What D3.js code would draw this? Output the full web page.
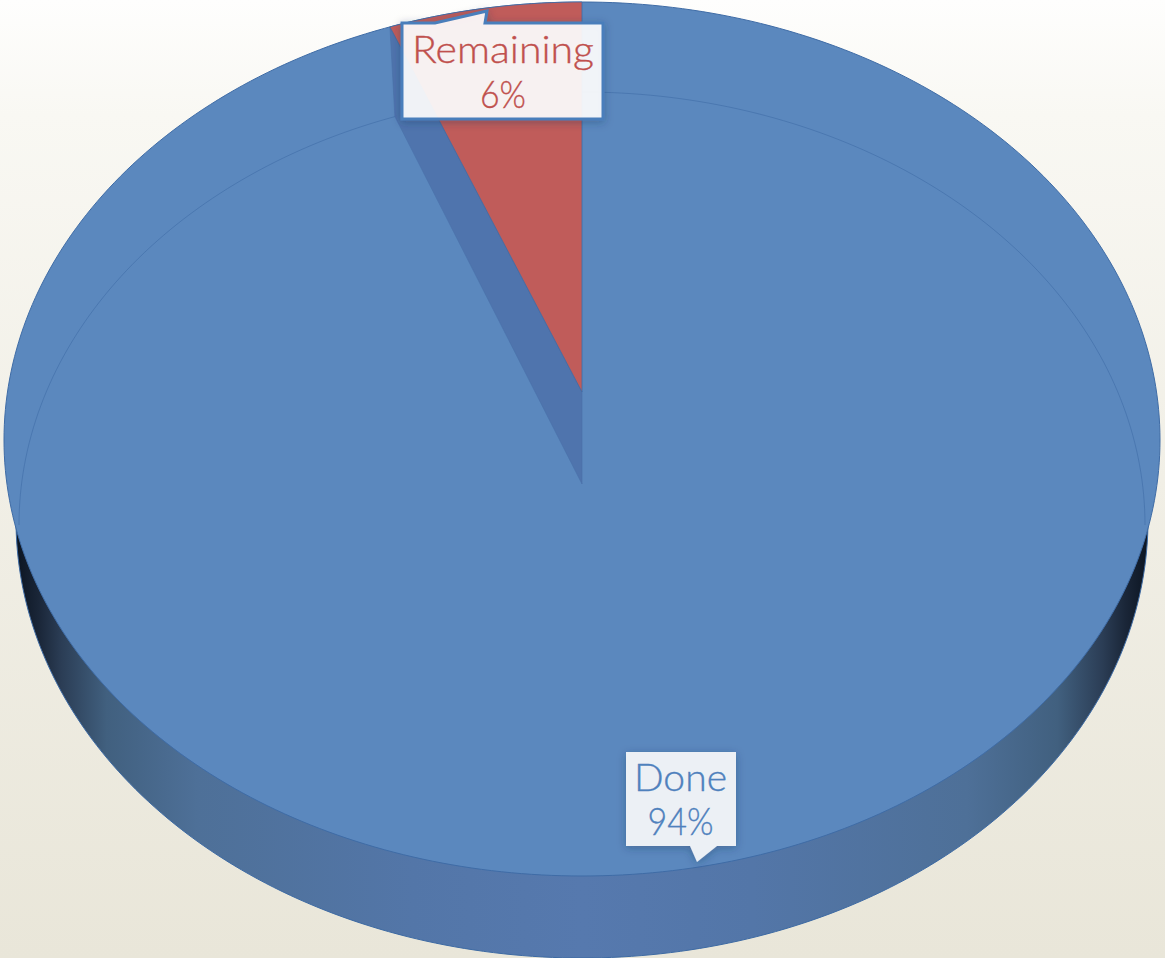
<!DOCTYPE html>
<html><head><meta charset="utf-8">
<script src="https://cdn.jsdelivr.net/npm/d3@7"></script>
<style>html,body{margin:0;padding:0;overflow:hidden;background:#fff}svg{display:block}</style>
</head><body><svg id="c" width="1165" height="958"></svg>
<script>
const categories = ["Done", "Remaining"];
const seriesValues = [94, 6];
const valueLabels = ["94%", "6%"];

const W = 1165, H = 958;
const svg = d3.select("#c");
const defs = svg.append("defs");

function grad(id, dir, stops){
  const g = defs.append("linearGradient").attr("id", id)
    .attr("x1",0).attr("y1",0).attr("x2",dir==="h"?1:0).attr("y2",dir==="h"?0:1);
  stops.forEach(s=>g.append("stop").attr("offset",s[0]).attr("stop-color",s[1]));
}
grad("bg","v",[[0,"#fefefd"],[0.12,"#f9f8f3"],[0.5,"#f1efe6"],[1,"#e9e6d9"]]);
grad("rim","h",[[0,"#0c1522"],[0.02,"#1a2638"],[0.04,"#2b3d55"],[0.08,"#41607f"],[0.16,"#4e7098"],[0.35,"#5376a8"],[0.5,"#5679ae"],[0.65,"#5376a8"],[0.84,"#4e7098"],[0.92,"#41607f"],[0.96,"#2b3d55"],[0.98,"#1a2638"],[1,"#0c1522"]]);
const f = defs.append("filter").attr("id","sh").attr("x","-20%").attr("y","-20%").attr("width","140%").attr("height","140%");
f.append("feDropShadow").attr("dx",0).attr("dy",2).attr("stdDeviation",4).attr("flood-color","#1d3557").attr("flood-opacity",0.35);

svg.append("rect").attr("width",W).attr("height",H).attr("fill","url(#bg)");

// Tilted disc geometry: each outline has its own upper and lower half-height
const cx = 582;
const silhouette = {cx, cy:440, rx:578, ryUp:438, ryDown:436};
const rimEdge    = {cx, cy:520, rx:566, ryUp:438, ryDown:438};
const surface    = {cx, cy:525, rx:563, ryUp:433, ryDown:433};
const wedgeApex  = {x:cx, y:392};
const wedgeFloor = {x:cx, y:484};

// Pie layout: the small slice sweeps counter-clockwise from 12 o'clock
const pie = d3.pie().sort(null).value(d=>d)(seriesValues);
const sweep = pie[1].endAngle - pie[1].startAngle;
// Foreshortening of the angle on the tilted disc
const phi = sweep - (3.2*Math.PI/180)*Math.sin(2*sweep);

const at = (e,t)=>{
  const c = Math.cos(t);
  return [e.cx + e.rx*Math.sin(t), e.cy - (c>=0?e.ryUp:e.ryDown)*c];
};
const line = d3.line();
const ellipse = e => line(d3.range(0,361,1).map(d=>at(e,d*Math.PI/180)))+"Z";

// rim
svg.append("path").attr("d",ellipse(rimEdge)).attr("fill","url(#rim)").attr("stroke","#3d6aa3").attr("stroke-width",1);
// body
svg.append("path").attr("d",ellipse(silhouette)).attr("fill","#5b88be").attr("stroke","#3f6ca6").attr("stroke-width",1);
// faint back edge of the top surface
svg.append("path").attr("d",line(d3.range(-90,91,1).map(d=>at(surface,d*Math.PI/180))))
  .attr("fill","none").attr("stroke","#3f6ca6").attr("stroke-opacity",0.6).attr("stroke-width",1);

// wedge cut-out wall
const inner = at(surface,-phi), outer = at(silhouette,-phi);
svg.append("path").attr("d",line([[wedgeApex.x,wedgeApex.y],[wedgeFloor.x,wedgeFloor.y],inner,outer])+"Z")
  .attr("fill","#4f74ad").attr("stroke","#4a71aa").attr("stroke-width",0.6);
// small slice
const arcPts = d3.range(0,41).map(i=>at(silhouette,-phi*i/40));
svg.append("path").attr("d",line([[wedgeApex.x,wedgeApex.y],...arcPts])+"Z")
  .attr("fill","#c05c5a").attr("stroke","#3f6ca6").attr("stroke-width",0.8);

// Labels
const boxes = [
 {i:1, x:402, y:23, w:201, h:96, color:"#c0504d", border:"#4a7ebb", sw:3, fill:"rgba(255,255,255,0.9)",
  tail:[[435,23],[487,11],[485,23]], b1:63, b2:108, tx:503, tw1:182, tw2:46},
 {i:0, x:626, y:752, w:110, h:94, color:"#4f81bd", border:"none", sw:0, fill:"#ecf0f5",
  tail:[[717,846],[697,862],[690,846]], b1:791, b2:835, tx:680.5, tw1:93, tw2:66}
];
const font = "Lato, 'Open Sans', sans-serif";
boxes.forEach(b=>{
  const g = svg.append("g");
  const p = [[b.x,b.y]];
  if(b.i===1) p.push(...b.tail);
  p.push([b.x+b.w,b.y]);
  p.push([b.x+b.w,b.y+b.h]);
  if(b.i===0) p.push(...b.tail);
  p.push([b.x,b.y+b.h]);
  g.append("path").attr("d",line(p)+"Z").attr("fill",b.fill).attr("stroke",b.border).attr("stroke-width",b.sw)
    .attr("stroke-linejoin","miter").attr("filter","url(#sh)");
  [[categories[b.i],b.b1,b.tw1],[valueLabels[b.i],b.b2,b.tw2]].forEach(([s,y,tw])=>{
    g.append("text").attr("x",b.tx).attr("y",y).attr("text-anchor","middle")
      .attr("font-family",font).attr("font-weight",300).attr("font-size",38).attr("fill",b.color)
      .attr("stroke",b.color).attr("stroke-width",0.35)
      .attr("textLength",tw).attr("lengthAdjust","spacingAndGlyphs").text(s);
  });
});
</script></body></html>
